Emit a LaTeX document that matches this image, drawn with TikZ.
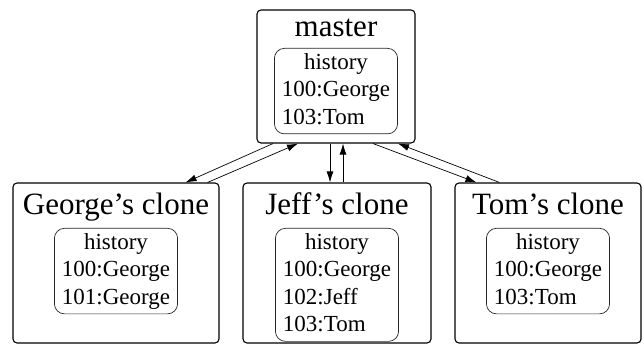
\documentclass[tikz,border=0pt]{standalone}
\usepackage{fontspec}
\setmainfont{Liberation Serif}
\usepackage{tikz}
\usetikzlibrary{arrows.meta}
\tikzset{
    clone-box/.style = {draw=black, line width=1.1pt, rectangle, rounded corners=4pt, minimum height=160pt},
    clone-title/.style = {anchor=base, inner sep=0pt, font=\fontsize{31}{37}\selectfont},
    history-box/.style = {draw=black!85, line width=0.7pt, rectangle, rounded corners=10pt, anchor=north, inner xsep=7.5pt, inner ysep=1.5pt, font=\fontsize{23}{27.5}\selectfont},
    sync/.style = {-{Latex[length=11pt,width=7pt]}, line width=0.7pt},
}
\newcommand{\histlines}[1]{\begin{tabular}{@{}l@{}}\multicolumn{1}{@{}c@{}}{history}\\#1\end{tabular}}

\begin{document}
\begin{tikzpicture}[x=1pt,y=-1pt]
\useasboundingbox (0,0) rectangle (644,344);
% master repository
\node [clone-box, minimum width=158pt, minimum height=133pt] (master) at (336,76.5) {};
\node [clone-title] (master-title) at (336,37) {master};
\node [history-box] (master-hist) at (336,48) {\histlines{100:George\\103:Tom}};
% the three clones
\node [clone-box, minimum width=206pt] (george) at (116,263) {};
\node [clone-title] (george-title) at (116,215) {George’s clone};
\node [history-box] (george-hist) at (116,228) {\histlines{100:George\\101:George}};

\node [clone-box, minimum width=188pt] (jeff) at (337,263) {};
\node [clone-title] (jeff-title) at (337,215) {Jeff’s clone};
\node [history-box] (jeff-hist) at (337,228) {\histlines{100:George\\102:Jeff\\103:Tom}};

\node [clone-box, minimum width=186pt] (tom) at (548,263) {};
\node [clone-title] (tom-title) at (548,215) {Tom’s clone};
\node [history-box] (tom-hist) at (548,228) {\histlines{100:George\\103:Tom}};
% pulls and pushes
\draw [sync] ([xshift=-63pt]master.south) -- ([xshift=-34pt]george.north east);
\draw [sync] ([xshift=-12pt]george.north east) -- ([xshift=-38pt]master.south);
\draw [sync] ([xshift=-6pt]master.south) -- ([xshift=-7pt]jeff.north);
\draw [sync] ([xshift=6pt]jeff.north) -- ([xshift=7pt]master.south);
\draw [sync] ([xshift=37pt]master.south) -- ([xshift=22pt]tom.north west);
\draw [sync] ([xshift=45pt]tom.north west) -- ([xshift=62pt]master.south);
\end{tikzpicture}
\end{document}
